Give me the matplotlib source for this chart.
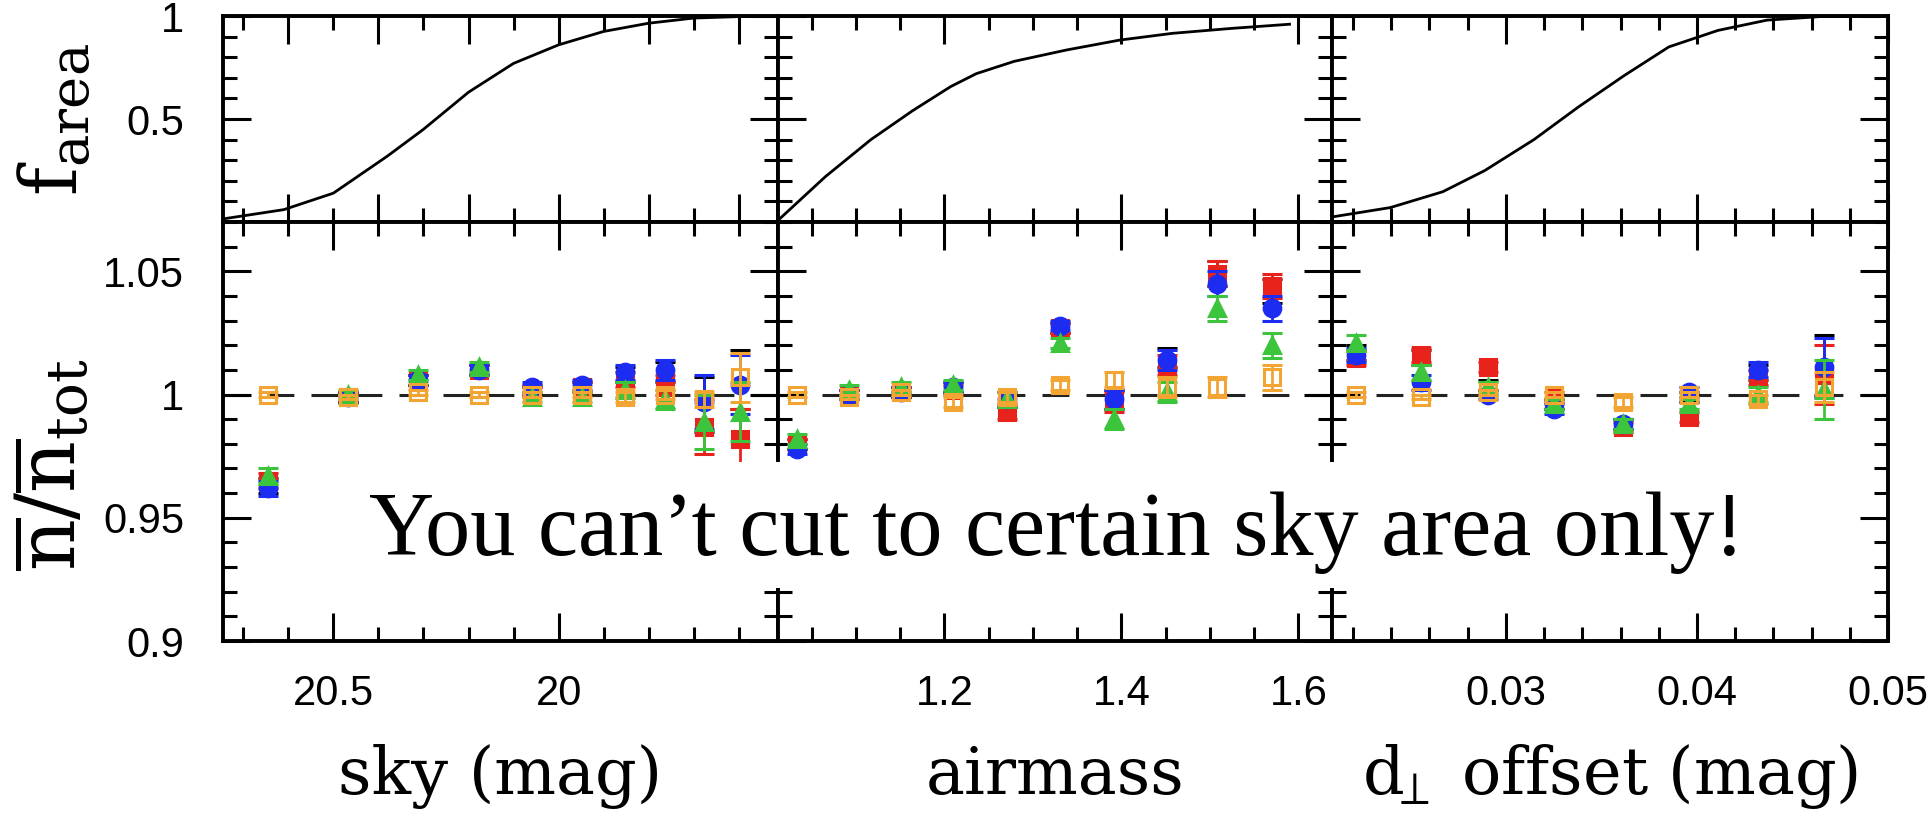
import matplotlib.pyplot as plt
from matplotlib.patches import Rectangle
from matplotlib.ticker import MultipleLocator

plt.rcParams['font.family'] = ['Liberation Sans', 'DejaVu Sans']
plt.rcParams['mathtext.fontset'] = 'dejavuserif'

# cumulative area fraction for each observing condition
sky_curve_x = [20.745, 20.70, 20.61, 20.50, 20.38, 20.30, 20.20, 20.10, 20.00, 19.90, 19.80, 19.70, 19.60, 19.513]
sky_curve_f = [0.015, 0.03, 0.06, 0.14, 0.32, 0.45, 0.63, 0.77, 0.86, 0.925, 0.965, 0.99, 0.997, 1.0]
air_curve_x = [1.010, 1.0655, 1.117, 1.164, 1.207, 1.236, 1.279, 1.338, 1.398, 1.458, 1.525, 1.590]
air_curve_f = [0.0, 0.22, 0.40, 0.54, 0.657, 0.72, 0.78, 0.835, 0.883, 0.916, 0.94, 0.96]
dperp_curve_x = [0.0210, 0.02395, 0.0267, 0.0289, 0.03147, 0.03382, 0.03618, 0.03853, 0.0411, 0.04367, 0.04644, 0.0498]
dperp_curve_f = [0.026, 0.07, 0.147, 0.25, 0.40, 0.56, 0.71, 0.85, 0.93, 0.98, 0.997, 1.0]

# binned density ratios, one list per sample
sky_x = [20.644, 20.467, 20.313, 20.176, 20.058, 19.947, 19.853, 19.764, 19.678, 19.598]
sky_black = [0.963, 0.999, 1.006, 1.010, 1.002, 1.003, 1.008, 1.009, 0.996, 1.006]
sky_red = [0.965, 0.999, 1.006, 1.010, 1.001, 1.003, 1.006, 1.004, 0.987, 0.982]
sky_blue = [0.962, 0.999, 1.006, 1.010, 1.003, 1.004, 1.009, 1.010, 0.997, 1.004]
sky_green = [0.967, 1.000, 1.008, 1.011, 0.999, 0.999, 1.002, 0.998, 0.989, 0.993]
sky_orange = [1.000, 0.999, 1.001, 1.000, 1.000, 1.000, 0.999, 1.000, 0.998, 1.007]
sky_err = [0.003, 0.002, 0.002, 0.002, 0.002, 0.002, 0.003, 0.004, 0.011, 0.012]
sky_err_orange = [0.001, 0.001, 0.001, 0.001, 0.001, 0.001, 0.002, 0.002, 0.003, 0.010]

air_x = [1.033, 1.092, 1.151, 1.210, 1.271, 1.331, 1.392, 1.451, 1.508, 1.570]
air_black = [0.980, 1.000, 1.001, 1.003, 0.998, 1.027, 0.998, 1.015, 1.049, 1.042]
air_red = [0.980, 1.000, 1.001, 1.002, 0.993, 1.027, 0.997, 1.012, 1.049, 1.044]
air_blue = [0.978, 1.000, 1.001, 1.003, 0.998, 1.028, 0.998, 1.014, 1.045, 1.035]
air_green = [0.982, 1.002, 1.003, 1.004, 0.998, 1.021, 0.990, 1.001, 1.035, 1.020]
air_orange = [1.000, 0.999, 1.001, 0.997, 0.999, 1.004, 1.006, 1.003, 1.003, 1.007]
air_err = [0.002, 0.002, 0.002, 0.002, 0.003, 0.002, 0.004, 0.004, 0.005, 0.005]
air_err_orange = [0.001, 0.001, 0.001, 0.002, 0.002, 0.002, 0.003, 0.004, 0.004, 0.005]

dperp_x = [0.02215, 0.02555, 0.02906, 0.03251, 0.03613, 0.03958, 0.04319, 0.04665]
dperp_black = [1.017, 1.015, 1.004, 0.996, 0.988, 0.999, 1.009, 1.012]
dperp_red = [1.015, 1.016, 1.011, 0.999, 0.987, 0.991, 1.007, 1.008]
dperp_blue = [1.016, 1.005, 1.000, 0.994, 0.988, 1.001, 1.010, 1.011]
dperp_green = [1.021, 1.009, 1.003, 0.996, 0.988, 0.996, 1.000, 1.002]
dperp_orange = [1.000, 0.999, 1.001, 1.000, 0.997, 1.000, 0.998, 1.003]
dperp_err = [0.003, 0.003, 0.002, 0.002, 0.002, 0.002, 0.003, 0.012]
dperp_err_orange = [0.001, 0.001, 0.001, 0.001, 0.002, 0.001, 0.002, 0.006]

columns = [
    dict(xlim=(20.745, 19.513), top_major=0.2, top_minor=0.1, bot_major=0.5, bot_minor=0.1,
         ticks=[20.5, 20.0], ticklabels=['20.5', '20'], xlabel='sky (mag)',
         curve=(sky_curve_x, sky_curve_f), x=sky_x,
         series=[sky_black, sky_red, sky_blue, sky_green, sky_orange], err=sky_err, err_o=sky_err_orange),
    dict(xlim=(1.012, 1.638), top_major=0.2, top_minor=0.05, bot_major=0.2, bot_minor=0.05,
         ticks=[1.2, 1.4, 1.6], ticklabels=['1.2', '1.4', '1.6'], xlabel='airmass',
         curve=(air_curve_x, air_curve_f), x=air_x,
         series=[air_black, air_red, air_blue, air_green, air_orange], err=air_err, err_o=air_err_orange),
    dict(xlim=(0.0209, 0.05), top_major=0.01, top_minor=0.002, bot_major=0.01, bot_minor=0.002,
         ticks=[0.03, 0.04, 0.05], ticklabels=['0.03', '0.04', '0.05'],
         xlabel=r'$\mathrm{d}_{\!\!\perp}$ offset (mag)',
         curve=(dperp_curve_x, dperp_curve_f), x=dperp_x,
         series=[dperp_black, dperp_red, dperp_blue, dperp_green, dperp_orange], err=dperp_err, err_o=dperp_err_orange),
]

styles = [
    dict(fmt='o', color='black', ms=5, mfc='black'),
    dict(fmt='s', color='#e8231c', ms=11, mfc='#e8231c'),
    dict(fmt='o', color='#1c2cf0', ms=12, mfc='#1c2cf0'),
    dict(fmt='^', color='#3cc43c', ms=12, mfc='#3cc43c'),
    dict(fmt='s', color='#f2a533', ms=12, mfc='none'),
]

W, H = 1932, 821
col_px = [223, 778, 1332, 1888]
row_px = [16, 222, 641]


def px_box(x0, x1, y0, y1):
    return [x0 / W, 1 - y1 / H, (x1 - x0) / W, (y1 - y0) / H]


def style_axis(ax, major_len=20, minor_len=10):
    for s in ax.spines.values():
        s.set_linewidth(2.8)
    ax.tick_params(which='both', direction='in', top=True, right=True, width=2.2)
    ax.tick_params(which='major', length=major_len)
    ax.tick_params(which='minor', length=minor_len)


fig = plt.figure(figsize=(W / 100, H / 100), dpi=100)

for i, col in enumerate(columns):
    ax_top = fig.add_axes(px_box(col_px[i], col_px[i + 1], row_px[0], row_px[1]))
    ax_bot = fig.add_axes(px_box(col_px[i], col_px[i + 1], row_px[1], row_px[2]))

    # cumulative fraction of survey area
    ax_top.plot(col['curve'][0], col['curve'][1], color='black', lw=2.0)
    ax_top.set_xlim(*col['xlim'])
    ax_top.set_ylim(0, 1)
    ax_top.xaxis.set_major_locator(MultipleLocator(col['top_major']))
    ax_top.xaxis.set_minor_locator(MultipleLocator(col['top_minor']))
    ax_top.set_yticks([0, 0.5, 1])
    ax_top.yaxis.set_minor_locator(MultipleLocator(0.1))
    ax_top.set_xticklabels([])
    style_axis(ax_top)

    # density ratio per bin
    ax_bot.axhline(1.0, color='#222222', lw=2.2, ls=(0, (8.8, 5.6)), zorder=1)
    for k, (vals, st) in enumerate(zip(col['series'], styles)):
        err = col['err_o'] if k == 4 else col['err']
        ax_bot.errorbar(col['x'], vals, yerr=err, fmt=st['fmt'], color=st['color'],
                        ms=st['ms'], mfc=st['mfc'], mec=st['color'], mew=2.2,
                        elinewidth=2.0, capsize=7, capthick=2.4, zorder=3 + k)
    ax_bot.set_xlim(*col['xlim'])
    ax_bot.set_ylim(0.9, 1.07)
    ax_bot.set_xticks(col['ticks'])
    ax_bot.xaxis.set_minor_locator(MultipleLocator(col['bot_minor']))
    ax_bot.set_yticks([0.9, 0.95, 1.0, 1.05])
    ax_bot.yaxis.set_minor_locator(MultipleLocator(0.01))
    ax_bot.set_xticklabels(col['ticklabels'])
    style_axis(ax_bot)
    ax_bot.tick_params(axis='x', labelsize=30, pad=24)
    ax_bot.set_xlabel(col['xlabel'], family='DejaVu Serif', size=47, va='center')
    ax_bot.xaxis.set_label_coords(0.5, -(776 - 641) / 419)

    if i == 0:
        ax_top.set_yticklabels(['', '0.5', '1'])
        ax_bot.set_yticklabels(['0.9', '0.95', '1', '1.05'])
        ax_top.tick_params(axis='y', labelsize=30, pad=28)
        ax_bot.tick_params(axis='y', labelsize=30, pad=28)
        ax_top.set_ylabel(r'$\mathrm{f}_{\mathrm{area}}$', size=56, va='center')
        ax_top.yaxis.set_label_coords(-(223 - 55) / 555, 0.5)
        ax_bot.set_ylabel(r'$\overline{\mathrm{n}}/\overline{\mathrm{n}}_{\mathrm{tot}}$', size=58, va='center')
        ax_bot.yaxis.set_label_coords(-(223 - 52) / 555, 0.42)
    else:
        ax_top.set_yticklabels([])
        ax_bot.set_yticklabels([])

# banner across the lower panels
fig.add_artist(Rectangle((290 / W, 1 - 588 / H), (1860 - 290) / W, (588 - 462) / H,
                         transform=fig.transFigure, facecolor='white', edgecolor='none', zorder=10))
fig.text(369 / W, 1 - 555 / H, 'You can\u2019t cut to certain sky area only!',
         family='Liberation Serif', size=65, ha='left', va='baseline', zorder=11)

fig.savefig('out.png', dpi=100)
